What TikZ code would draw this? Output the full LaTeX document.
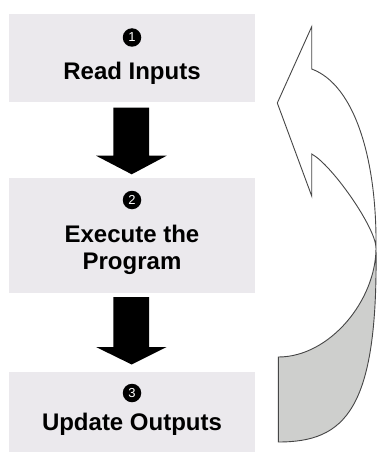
\documentclass[tikz,border=0pt]{standalone}
\usepackage{fontspec}
\setmainfont{Liberation Sans}
\definecolor{boxgray}{RGB}{235,233,237}
\definecolor{bandgray}{RGB}{206,207,205}
\definecolor{edgegray}{RGB}{70,70,70}
\begin{document}
\begin{tikzpicture}[x=1pt,y=-1pt,
  stepbox/.style={fill=boxgray,draw=none,inner sep=0pt,anchor=north west},
  numdot/.style={circle,fill=black,text=white,inner sep=0pt,minimum size=18.5pt,font=\fontsize{13}{13}\selectfont},
  label/.style={inner sep=0pt,anchor=base,font=\bfseries\fontsize{24}{27}\selectfont},
  blockarrow/.style={fill=black,draw=none},
  bandline/.style={draw=edgegray,line width=0.9pt,line join=miter}]
\useasboundingbox (0,0) rectangle (377,452);
\fill[white] (0,0) rectangle (377,452);
% boxes
\node[stepbox,minimum width=246pt,minimum height=88pt] (box1) at (9,14) {};
\node[stepbox,minimum width=246pt,minimum height=115pt] (box2) at (9,178) {};
\node[stepbox,minimum width=246pt,minimum height=82pt] (box3) at (9,372) {};
% numbers and labels
\node[numdot] (n1) at (132,37.5) {1};
\node[label] (t1) at (132,79) {Read Inputs};
\node[numdot] (n2) at (132,200) {2};
\node[label] (t2a) at (132,242.7) {Execute the};
\node[label] (t2b) at (132,269.3) {Program};
\node[numdot] (n3) at (132,393) {3};
\node[label] (t3) at (132,430) {Update Outputs};
% block arrows
\fill[blockarrow] (113.3,107.7) -- (149,107.7) -- (149,155.7) -- (166.7,155.7) -- (131.7,174.3) -- (96,155.7) -- (113.3,155.7) -- cycle;
\fill[blockarrow] (113.3,297) -- (149,297) -- (149,347) -- (166.7,347) -- (131.7,364.5) -- (96,347) -- (113.3,347) -- cycle;
% curved return arrow
\path[bandline,fill=white] (311.7,26.7) -- (311.7,69)
  .. controls (355,85) and (377,160) .. (376,248)
  .. controls (376,228) and (332,165) .. (311.7,154)
  -- (311.7,196) -- (277.3,103) -- cycle;
\path[bandline,fill=bandgray] (376,248)
  .. controls (376,300) and (330,357) .. (278.3,357)
  -- (278.3,442)
  .. controls (345,442) and (378,410) .. (376,248) -- cycle;
\end{tikzpicture}
\end{document}
